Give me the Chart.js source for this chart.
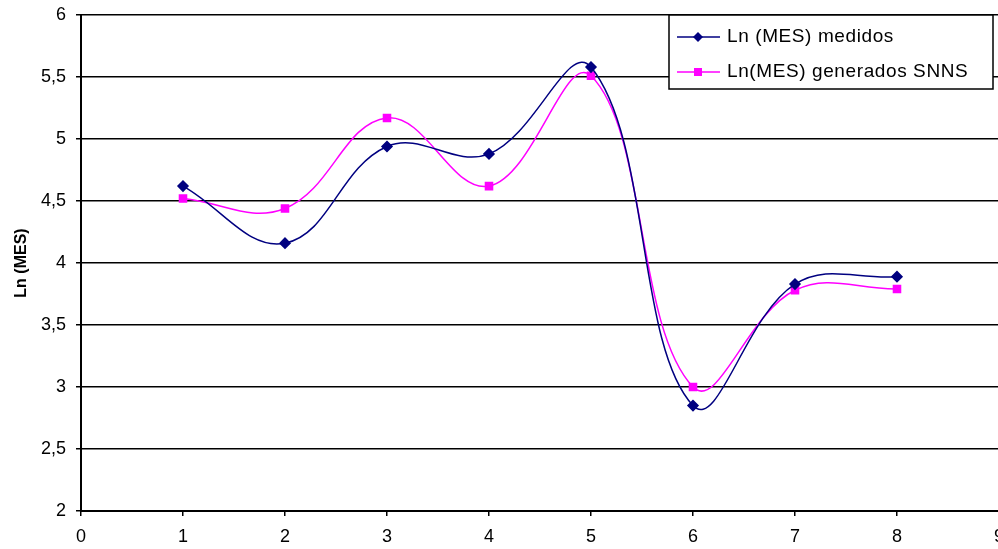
<!DOCTYPE html>
<html>
<head>
<meta charset="utf-8">
<script src="https://cdn.jsdelivr.net/npm/chart.js@4/dist/chart.umd.min.js"></script>
<style>
  html, body { margin: 0; padding: 0; background: #fff; overflow: hidden; }
  #wrap { position: relative; width: 1014px; height: 549px; }
</style>
</head>
<body>
<div id="wrap"><canvas id="c"></canvas></div>
<script>
// ---- data ----
const xValues = [1, 2, 3, 4, 5, 6, 7, 8];
const medidos = [4.62, 4.16, 4.94, 4.88, 5.58, 2.85, 3.83, 3.89];
const generados = [4.52, 4.44, 5.17, 4.62, 5.51, 3.00, 3.78, 3.79];
const seriesNames = ['Ln (MES) medidos', 'Ln(MES) generados SNNS'];
const yTitle = 'Ln (MES)';
const xMin = 0, xMax = 9, yMin = 2, yMax = 6, yStep = 0.5;

const FONT = '"Liberation Sans", Arial, sans-serif';
const NAVY = '#000080';
const MAGENTA = '#FF00FF';

const toPoints = (xs, ys) => xs.map((x, i) => ({ x: x, y: ys[i] }));

const legendBox = {
  id: 'legendBox',
  afterDraw(chart) {
    const ctx = chart.ctx;
    const x0 = 669, y0 = 15, x1 = 993, y1 = 89;
    ctx.save();
    ctx.fillStyle = '#fff';
    ctx.fillRect(x0, y0, x1 - x0, y1 - y0);
    ctx.strokeStyle = '#000';
    ctx.lineWidth = 1.5;
    ctx.strokeRect(x0, y0, x1 - x0, y1 - y0);
    const rows = [37, 72];
    chart.data.datasets.forEach((ds, i) => {
      const y = rows[i];
      ctx.strokeStyle = ds.borderColor;
      ctx.lineWidth = 1.5;
      ctx.beginPath();
      ctx.moveTo(677, y);
      ctx.lineTo(720, y);
      ctx.stroke();
      ctx.fillStyle = ds.pointBackgroundColor;
      const cx = 698;
      if (ds.pointStyle === 'rectRot') {
        ctx.beginPath();
        ctx.moveTo(cx, y - 5); ctx.lineTo(cx + 5, y); ctx.lineTo(cx, y + 5); ctx.lineTo(cx - 5, y);
        ctx.closePath(); ctx.fill();
      } else {
        ctx.fillRect(cx - 4, y - 4, 8, 8);
      }
      ctx.fillStyle = '#000';
      ctx.font = '19px ' + FONT;
      try { ctx.letterSpacing = '0.6px'; } catch (e) {}
      ctx.textBaseline = 'middle';
      ctx.textAlign = 'left';
      ctx.fillText(ds.label, 727, y);
    });
    ctx.restore();
  }
};

new Chart(document.getElementById('c'), {
  type: 'line',
  data: {
    datasets: [
      {
        label: seriesNames[0],
        data: toPoints(xValues, medidos),
        borderColor: NAVY,
        backgroundColor: NAVY,
        pointBackgroundColor: NAVY,
        pointBorderColor: NAVY,
        pointStyle: 'rectRot',
        pointRadius: 5,
        borderWidth: 1.5,
        tension: 0.4,
        fill: false
      },
      {
        label: seriesNames[1],
        data: toPoints(xValues, generados),
        borderColor: MAGENTA,
        backgroundColor: MAGENTA,
        pointBackgroundColor: MAGENTA,
        pointBorderColor: MAGENTA,
        pointStyle: 'rect',
        pointRadius: 5,
        borderWidth: 1.5,
        tension: 0.4,
        fill: false
      }
    ]
  },
  options: {
    responsive: true,
    maintainAspectRatio: false,
    animation: false,
    devicePixelRatio: 1,
    layout: { padding: { top: 15, left: 0, right: 0, bottom: 0 } },
    plugins: { legend: { display: false }, tooltip: { enabled: false } },
    scales: {
      x: {
        type: 'linear',
        min: xMin, max: xMax,
        ticks: { stepSize: 1, color: '#000', font: { family: FONT, size: 18 }, padding: 10, maxRotation: 0 },
        grid: { display: true, drawOnChartArea: false, drawTicks: true, tickLength: 5, color: '#000', lineWidth: 1.5 },
        border: { display: true, color: '#000', width: 2 },
        afterFit(scale) { scale.height = 38; }
      },
      y: {
        min: yMin, max: yMax,
        ticks: {
          stepSize: yStep, color: '#000', font: { family: FONT, size: 18 }, padding: 10,
          callback: v => String(v).replace('.', ',')
        },
        grid: { color: '#000', lineWidth: 1.5, tickLength: 5 },
        border: { display: true, color: '#000', width: 2 },
        title: { display: true, text: yTitle, color: '#000', font: { family: FONT, size: 16, weight: 'bold' }, padding: { top: 12, bottom: 0 } },
        afterFit(scale) { scale.width = 81; scale.paddingTop = 0; scale.paddingBottom = 0; }
      }
    }
  },
  plugins: [legendBox]
});
</script>
</body>
</html>
